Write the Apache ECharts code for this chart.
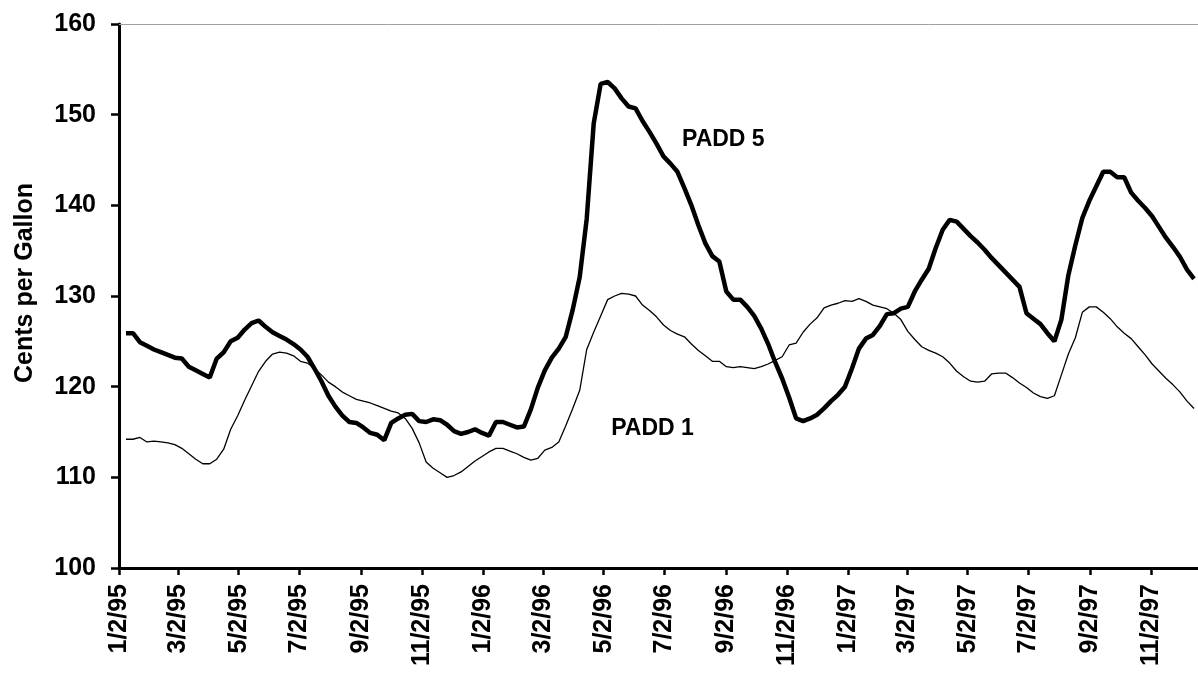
<!DOCTYPE html>
<html><head><meta charset="utf-8">
<script src="https://cdn.jsdelivr.net/npm/echarts@6/dist/echarts.min.js"></script>
<style>html,body{margin:0;padding:0;background:#fff}#c{width:1198px;height:675px}</style>
</head><body><div id="c"></div>
<script>
// Weekly observations, first week = 1/9/95; x axis counts days from 1/2/95
const axisStart = [1995, 0, 2];
const firstWeek = [1995, 0, 9];
const axisSpanDays = 1082;

const tickLabels = ['1/2/95','3/2/95','5/2/95','7/2/95','9/2/95','11/2/95',
  '1/2/96','3/2/96','5/2/96','7/2/96','9/2/96','11/2/96',
  '1/2/97','3/2/97','5/2/97','7/2/97','9/2/97','11/2/97'];

const padd5 = [
  125.9,125.9,124.9,124.5,124.1,123.8,123.5,123.2,123.1,122.2,
  121.8,121.4,121.0,123.1,123.8,125.0,125.4,126.3,127.0,127.3,
  126.6,126.0,125.6,125.2,124.7,124.1,123.3,122.0,120.6,119.0,
  117.8,116.8,116.1,116.0,115.5,114.9,114.7,114.1,116.0,116.5,
  116.9,117.0,116.2,116.1,116.4,116.3,115.8,115.1,114.8,115.0,
  115.3,114.9,114.6,116.1,116.1,115.8,115.5,115.6,117.5,119.9,
  121.8,123.2,124.2,125.5,128.5,132.1,138.5,149.0,153.4,153.6,
  152.9,151.8,150.9,150.7,149.3,148.1,146.8,145.4,144.6,143.7,
  141.9,140.0,137.8,135.8,134.4,133.8,130.5,129.6,129.6,128.8,
  127.8,126.4,124.7,122.7,120.9,118.8,116.5,116.2,116.5,116.9,
  117.6,118.4,119.1,120.0,122.0,124.2,125.3,125.7,126.7,128.0,
  128.1,128.6,128.8,130.5,131.8,133.0,135.3,137.3,138.4,138.2,
  137.4,136.6,135.9,135.1,134.2,133.4,132.6,131.8,131.0,128.1,
  127.5,126.9,125.9,125.0,127.4,132.3,135.6,138.6,140.5,142.1,
  143.7,143.7,143.1,143.1,141.4,140.5,139.7,138.8,137.6,136.4,
  135.4,134.3,132.9,131.9
];

const padd1 = [
  114.2,114.2,114.4,113.9,114.0,113.9,113.8,113.6,113.2,112.6,
  112.0,111.5,111.5,112.0,113.1,115.3,116.8,118.5,120.1,121.7,
  122.8,123.6,123.8,123.7,123.4,122.8,122.6,122.0,121.3,120.5,
  120.0,119.4,119.0,118.6,118.4,118.2,117.9,117.6,117.3,117.1,
  116.5,115.4,113.8,111.7,111.0,110.5,110.0,110.2,110.6,111.2,
  111.8,112.3,112.8,113.2,113.2,112.9,112.6,112.2,111.9,112.1,
  113.0,113.3,113.9,115.7,117.6,119.6,124.1,126.0,127.8,129.6,
  130.0,130.3,130.2,130.0,129.0,128.4,127.7,126.8,126.2,125.8,
  125.5,124.7,124.0,123.4,122.8,122.8,122.2,122.1,122.2,122.1,
  122.0,122.2,122.5,122.9,123.3,124.6,124.8,126.0,126.9,127.6,
  128.7,129.0,129.2,129.5,129.4,129.7,129.4,129.0,128.8,128.6,
  128.1,127.4,126.1,125.2,124.4,124.0,123.7,123.3,122.6,121.7,
  121.1,120.6,120.5,120.6,121.4,121.5,121.5,121.0,120.4,119.9,
  119.3,118.9,118.7,119.0,121.3,123.6,125.4,128.2,128.8,128.8,
  128.2,127.5,126.6,125.9,125.3,124.4,123.5,122.5,121.7,120.9,
  120.2,119.4,118.4,117.6
];

// Series annotation labels (date, value)
const seriesLabels = [
  {name: 'PADD 5', date: [1996, 7, 30], value: 147.2},
  {name: 'PADD 1', date: [1996, 5, 20], value: 115.4}
];

const DAY = 86400000;
const dayOf = a => Math.round((Date.UTC(a[0], a[1], a[2]) - Date.UTC(axisStart[0], axisStart[1], axisStart[2])) / DAY);
const parseTick = s => { const p = s.split('/').map(Number); return dayOf([1900 + p[2], p[0] - 1, p[1]]); };
const tickValues = tickLabels.map(parseTick);
const tickMap = {}; tickValues.forEach((v, i) => tickMap[v] = tickLabels[i]);
const weekDays = padd5.map((_, i) => dayOf(firstWeek) + i * 7);

const FONT = 'Liberation Sans, Arial, sans-serif';
const chart = echarts.init(document.getElementById('c'));

function labelPoint(l) {
  return {
    coord: [dayOf(l.date), l.value],
    symbol: 'circle', symbolSize: 1,
    itemStyle: {color: 'rgba(0,0,0,0)'},
    label: {show: true, position: 'inside', formatter: l.name, color: '#000',
      fontFamily: FONT, fontWeight: 'bold', fontSize: 23}
  };
}

chart.setOption({
  animation: false,
  backgroundColor: '#fff',
  grid: {left: 119, right: 0, top: 24, bottom: 107, containLabel: false},
  xAxis: {
    type: 'value',
    min: 0, max: axisSpanDays,
    axisLine: {show: true, lineStyle: {color: '#000', width: 3}},
    axisTick: {show: true, customValues: tickValues, length: 7, lineStyle: {color: '#000', width: 2.5}},
    axisLabel: {show: true, customValues: tickValues, rotate: 90, margin: 16,
      formatter: v => tickMap[v] || '', color: '#000', fontFamily: FONT, fontWeight: 'bold', fontSize: 25},
    splitLine: {show: false}
  },
  yAxis: {
    type: 'value', min: 100, max: 160, interval: 10,
    axisLine: {show: true, lineStyle: {color: '#000', width: 3}},
    axisTick: {show: true, length: 8, lineStyle: {color: '#000', width: 2.5}},
    axisLabel: {margin: 23, color: '#000', fontFamily: FONT, fontWeight: 'bold', fontSize: 25},
    splitLine: {show: false}
  },
  graphic: [{
    type: 'text', x: 25, y: 283, rotation: Math.PI / 2,
    style: {text: 'Cents per Gallon', font: 'bold 25px ' + FONT, fill: '#000', align: 'center', verticalAlign: 'middle'}
  }],
  series: [
    {
      name: 'PADD 5', type: 'line', showSymbol: false, symbol: 'none',
      data: weekDays.map((d, i) => [d, padd5[i]]),
      lineStyle: {color: '#000', width: 4.5},
      markLine: {silent: true, symbol: ['none', 'none'], label: {show: false},
        lineStyle: {color: '#a0a0a0', width: 1, type: 'solid'}, data: [{yAxis: 160}]},
      markPoint: {silent: true, data: [labelPoint(seriesLabels[0])]}
    },
    {
      name: 'PADD 1', type: 'line', showSymbol: false, symbol: 'none',
      data: weekDays.map((d, i) => [d, padd1[i]]),
      lineStyle: {color: '#000', width: 1.3},
      markPoint: {silent: true, data: [labelPoint(seriesLabels[1])]}
    }
  ]
});
</script>
</body></html>
